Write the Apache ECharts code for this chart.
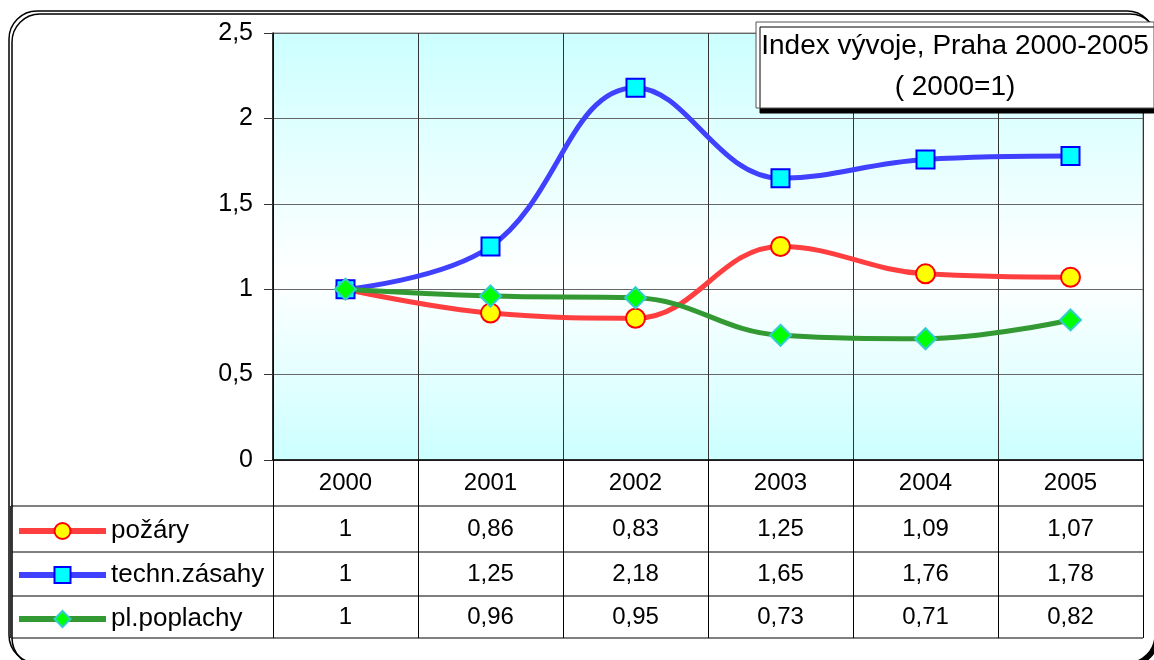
<!DOCTYPE html>
<html>
<head>
<meta charset="utf-8">
<script src="https://cdn.jsdelivr.net/npm/echarts@6/dist/echarts.min.js"></script>
<style>
  html, body { margin: 0; padding: 0; background: #fff; }
  #chart { width: 1154px; height: 660px; }
</style>
</head>
<body>
<div id="chart"></div>
<script>
// data
const years = ['2000', '2001', '2002', '2003', '2004', '2005'];
const pozary = [1, 0.86, 0.83, 1.25, 1.09, 1.07];
const technZasahy = [1, 1.25, 2.18, 1.65, 1.76, 1.78];
const plPoplachy = [1, 0.96, 0.95, 0.73, 0.71, 0.82];
const seriesNames = ['požáry', 'techn.zásahy', 'pl.poplachy'];

const FONT = 'Liberation Sans, Arial, sans-serif';
const fmt = v => String(v).replace('.', ',');

const chart = echarts.init(document.getElementById('chart'));

// radky tabulky pod grafem = dalsi osy x s odsazenim
function rowAxis(values, offset) {
  return {
    type: 'category',
    gridIndex: 0,
    position: 'bottom',
    offset: offset,
    data: years,
    axisLine: { show: false },
    axisTick: { show: false },
    splitLine: { show: false },
    axisLabel: {
      margin: 11,
      fontSize: 24,
      fontFamily: FONT,
      color: '#000',
      formatter: (v, i) => fmt(values[i])
    }
  };
}

const option = {
  backgroundColor: '#fff',
  animation: false,
  grid: [
    {
      left: 273, right: 11, top: 33, height: 427,
      show: true,
      borderColor: '#808080',
      borderWidth: 1,
      backgroundColor: new echarts.graphic.LinearGradient(0, 0, 0, 1, [
        { offset: 0, color: '#ccffff' },
        { offset: 0.57, color: '#ffffff' },
        { offset: 1, color: '#ccffff' }
      ])
    },
    { left: 273, right: 11, top: 460, height: 178 }
  ],
  legend: {
    orient: 'vertical',
    left: 16,
    top: 518,
    padding: 0,
    itemWidth: 87,
    itemHeight: 20,
    itemGap: 18,
    data: seriesNames,
    lineStyle: { width: 6 },
    textStyle: { fontSize: 26, lineHeight: 26, fontFamily: FONT, color: '#000' }
  },
  xAxis: [
    {
      type: 'category',
      gridIndex: 0,
      data: years,
      boundaryGap: true,
      axisLine: { show: true, lineStyle: { color: '#000', width: 1.5 } },
      axisTick: { show: false },
      splitLine: { show: true, lineStyle: { color: '#333', width: 1 } },
      axisLabel: { margin: 11, fontSize: 24, fontFamily: FONT, color: '#000' }
    },
    rowAxis(pozary, 46),
    rowAxis(technZasahy, 91),
    rowAxis(plPoplachy, 134),
    {
      type: 'category',
      gridIndex: 1,
      data: years,
      boundaryGap: true,
      axisLine: { show: false },
      axisTick: { show: false },
      axisLabel: { show: false },
      splitLine: { show: true, lineStyle: { color: '#000', width: 1 } }
    }
  ],
  yAxis: [
    {
      type: 'value',
      gridIndex: 0,
      min: 0, max: 2.5, interval: 0.5,
      axisLine: { show: true, lineStyle: { color: '#000', width: 1.5 } },
      axisTick: { show: true, length: 9, lineStyle: { color: '#333' } },
      splitLine: { show: true, lineStyle: { color: '#666', width: 1 } },
      axisLabel: {
        margin: 20,
        fontSize: 25,
        fontFamily: FONT,
        color: '#000',
        formatter: v => fmt(v)
      }
    },
    { type: 'value', gridIndex: 1, show: false }
  ],
  series: [
    {
      name: seriesNames[0],
      type: 'line',
      data: pozary,
      smooth: 0.4,
      symbol: 'circle',
      symbolSize: 19,
      lineStyle: { color: '#ff3f3f', width: 5 },
      itemStyle: { color: '#ffff00', borderColor: '#ff0000', borderWidth: 2 }
    },
    {
      name: seriesNames[1],
      type: 'line',
      data: technZasahy,
      smooth: 0.4,
      symbol: 'rect',
      symbolSize: 18,
      lineStyle: { color: '#4040ff', width: 5 },
      itemStyle: { color: '#00ffff', borderColor: '#0000ff', borderWidth: 2 }
    },
    {
      name: seriesNames[2],
      type: 'line',
      data: plPoplachy,
      smooth: 0.4,
      symbol: 'diamond',
      symbolSize: 21,
      lineStyle: { color: '#339933', width: 5 },
      itemStyle: { color: '#00ff00', borderColor: '#33cccc', borderWidth: 2 }
    }
  ],
  graphic: [
    // vnejsi ramecek se stinem
    {
      type: 'rect',
      z: -10,
      shape: { x: 9, y: 11, width: 1146, height: 652, r: 28 },
      style: {
        fill: '#fff', stroke: '#000', lineWidth: 1.5,
        shadowColor: '#000', shadowOffsetX: 3, shadowOffsetY: 3, shadowBlur: 0
      }
    },
    // vodorovne cary tabulky
    ...[506, 552, 596, 638].map(y => ({
      type: 'line', z: 5,
      shape: { x1: 11, y1: y, x2: 1143, y2: y },
      style: { stroke: '#000', lineWidth: 1 }
    })),
    {
      type: 'line', z: 5,
      shape: { x1: 11, y1: 506, x2: 11, y2: 638 },
      style: { stroke: '#333', lineWidth: 2 }
    },
    // titulek
    {
      type: 'rect', z: 20,
      shape: { x: 756, y: 22, width: 398, height: 86 },
      style: {
        fill: '#fff', stroke: '#555', lineWidth: 1,
        shadowColor: '#000', shadowOffsetX: 4, shadowOffsetY: 5, shadowBlur: 0
      }
    },
    {
      type: 'text', z: 21,
      x: 955, y: 67,
      style: {
        text: 'Index vývoje, Praha 2000-2005\n( 2000=1)',
        font: '28px ' + FONT,
        fill: '#000',
        align: 'center',
        verticalAlign: 'middle',
        lineHeight: 41
      }
    }
  ]
};

chart.setOption(option);
</script>
</body>
</html>
